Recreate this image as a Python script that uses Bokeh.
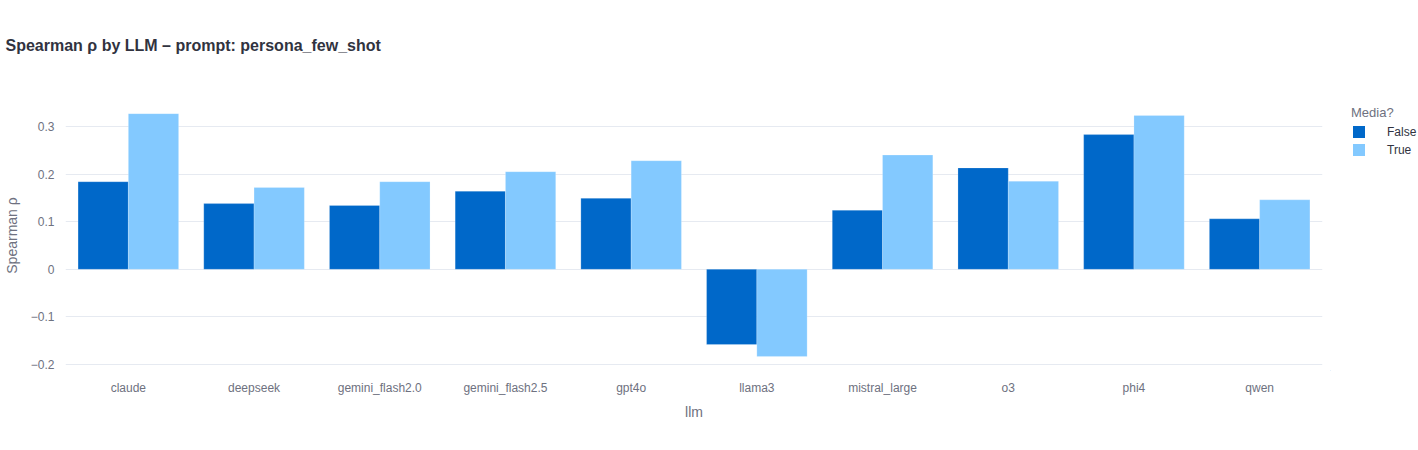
from bokeh.plotting import figure
from bokeh.layouts import row
from bokeh.models import (FactorRange, Range1d, ColumnDataSource, FixedTicker, Legend,
                          LegendItem, Title)
from bokeh.transform import dodge
from bokeh.embed import file_html
from bokeh.resources import INLINE

llms = ["claude", "deepseek", "gemini_flash2.0", "gemini_flash2.5", "gpt4o",
        "llama3", "mistral_large", "o3", "phi4", "qwen"]
rho_false = [0.184, 0.138, 0.134, 0.164, 0.149, -0.158, 0.124, 0.213, 0.283, 0.106]
rho_true = [0.327, 0.172, 0.184, 0.205, 0.228, -0.183, 0.240, 0.185, 0.323, 0.146]
y_ticks = [-0.2, -0.1, 0, 0.1, 0.2, 0.3]
y_tick_labels = ["\u22120.2", "\u22120.1", "0", "0.1", "0.2", "0.3"]
legend_title = "Media?"
series_names = ["False", "True"]

FONT = "Liberation Sans"
DARK = "#31333F"
GRAY = "#6E7180"
GRID = "#E6EAF1"
C_FALSE = "#0068C9"
C_TRUE = "#83C9FF"

src = ColumnDataSource(dict(llm=llms, f=rho_false, t=rho_true))

p = figure(width=1330, height=450, x_range=FactorRange(*llms, range_padding=0),
           y_range=Range1d(-0.2126, 0.3546), output_backend="svg",
           toolbar_location=None, title_location=None,
           min_border_left=65, min_border_right=8,
           min_border_top=100, min_border_bottom=80)
p.outline_line_color = None

# spacer between frame and title (first added sits closest to the frame)
p.add_layout(Title(text=" ", text_font_size="1px", standoff=39), "above")
p.add_layout(Title(text="Spearman \u03c1 by LLM \u2013 prompt: persona_few_shot",
                   text_font=FONT, text_font_size="16px", text_font_style="bold",
                   text_color=DARK, align="left", offset=-60, standoff=10), "above")

p.vbar(x=dodge("llm", -0.2, range=p.x_range), top="f", width=0.4, source=src,
       fill_color=C_FALSE, line_color="white", line_width=0.5, line_alpha=0.4)
p.vbar(x=dodge("llm", 0.2, range=p.x_range), top="t", width=0.4, source=src,
       fill_color=C_TRUE, line_color="white", line_width=0.5, line_alpha=0.4)

p.xgrid.grid_line_color = None
p.ygrid.grid_line_color = GRID
p.ygrid.grid_line_width = 1

p.yaxis.ticker = FixedTicker(ticks=y_ticks)
p.yaxis.major_label_overrides = {v: s for v, s in zip(y_ticks, y_tick_labels)}
for ax in (p.xaxis[0], p.yaxis[0]):
    ax.axis_line_color = None
    ax.major_tick_line_color = None
    ax.minor_tick_line_color = None
    ax.major_label_text_font = FONT
    ax.major_label_text_font_size = "12px"
    ax.major_label_text_color = GRAY
    ax.axis_label_text_font = FONT
    ax.axis_label_text_font_size = "14px"
    ax.axis_label_text_font_style = "normal"
    ax.axis_label_text_color = GRAY

p.yaxis.major_label_standoff = 5
p.yaxis.axis_label = "Spearman \u03c1"
p.yaxis.axis_label_standoff = 8
p.xaxis.major_label_standoff = 4
p.xaxis.axis_label = "llm"
p.xaxis.axis_label_standoff = 6

# legend panel: a second, axis-less figure to the right of the main one
# (its frame is aligned with the main frame: y 100..370 on the page)
lg = figure(width=88, height=450, x_range=Range1d(0, 1), y_range=Range1d(0, 1),
            output_backend="svg", toolbar_location=None, title_location=None,
            min_border=0, x_axis_type=None, y_axis_type=None)
lg.outline_line_color = None
lg.grid.grid_line_color = None
# legend proxies: one bar each, placed outside the visible range so only the swatch shows
proxy = ColumnDataSource(dict(x=[-10], top=[-10]))
lf = lg.vbar(x="x", top="top", width=0.4, source=proxy, fill_color=C_FALSE, line_color=None)
lt = lg.vbar(x="x", top="top", width=0.4, source=proxy, fill_color=C_TRUE, line_color=None)

legend = Legend(items=[LegendItem(label=series_names[0], renderers=[lf]),
                       LegendItem(label=series_names[1], renderers=[lt])],
                location=(21, 213), title=legend_title,
                margin=0, padding=0, spacing=3, glyph_width=15, glyph_height=15,
                label_standoff=21, label_height=15, title_standoff=4,
                background_fill_alpha=0, border_line_color=None,
                label_text_font=FONT, label_text_font_size="12px",
                label_text_color=DARK, title_text_font=FONT,
                title_text_font_size="13px", title_text_color=GRAY,
                title_text_font_style="normal")
lg.add_layout(legend, "center")

layout = row(p, lg, spacing=0)
open("out.html", "w").write(file_html(layout, INLINE))
